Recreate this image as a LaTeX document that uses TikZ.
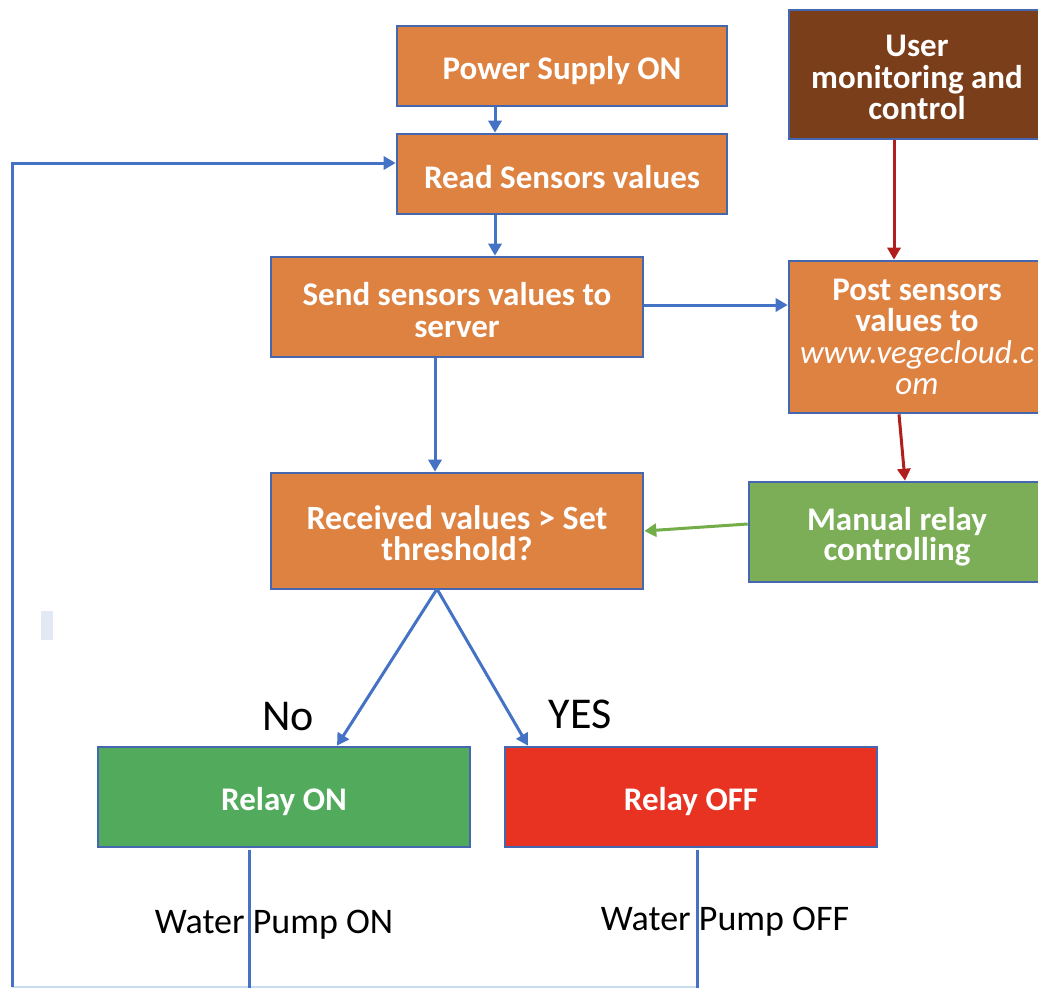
\documentclass[tikz,border=0pt]{standalone}
\usepackage{fontspec}
\setmainfont{Carlito}
\usetikzlibrary{arrows.meta}
\definecolor{boxorange}{HTML}{DE8242}
\definecolor{boxborder}{HTML}{4567B0}
\definecolor{boxbrown}{HTML}{7A3E1A}
\definecolor{boxgreen}{HTML}{7BAE56}
\definecolor{relaygreen}{HTML}{52AB5D}
\definecolor{relayred}{HTML}{E83323}
\definecolor{flowblue}{HTML}{4472C4}
\definecolor{flowred}{HTML}{B01E1E}
\definecolor{flowgreen}{HTML}{72AD48}
\definecolor{faintblue}{HTML}{C9DDF0}
\definecolor{stray}{HTML}{E3E8F5}
\tikzset{
  box/.style={draw=boxborder, line width=2.6pt, fill=boxorange, inner sep=0pt},
  bt/.style={text=white, font=\bfseries\fontsize{33}{31.5}\selectfont, align=center, inner sep=0pt, yshift=-3pt},
  arr/.style={draw=flowblue, line width=3pt, -{Triangle[width=13pt,length=12pt]}},
  rarr/.style={draw=flowred, line width=3pt, -{Triangle[width=13pt,length=12pt]}},
  garr/.style={draw=flowgreen, line width=3pt, -{Triangle[width=13pt,length=12pt]}},
  plain/.style={draw=flowblue, line width=3pt},
  lbl/.style={text=black, inner sep=0pt},
}
\begin{document}
\begin{tikzpicture}[x=1pt,y=-1pt]
\useasboundingbox (0,0) rectangle (1038,988);
% stray mark
\fill[stray] (41,611) rectangle (53,640);
% boxes
\node[box, minimum width=330pt, minimum height=80pt,
  label={[bt, yshift=-2pt]center:Power Supply ON}] (power) at (562,66) {};
\node[box, minimum width=330pt, minimum height=80pt,
  label={[bt]center:Read Sensors values}] (read) at (562,174) {};
\node[box, minimum width=372pt, minimum height=100pt,
  label={[bt]center:Send sensors values to\\server}] (send) at (457,307) {};
\node[box, fill=boxbrown, minimum width=256pt, minimum height=129pt,
  label={[bt]center:User\\monitoring and\\control}] (user) at (917,74.5) {};
\node[box, minimum width=256pt, minimum height=152pt,
  label={[bt, yshift=3pt]center:Post sensors\\values to\\{\mdseries\itshape www.vegecloud.c}\\{\mdseries\itshape om}}] (post) at (917,337) {};
\node[box, minimum width=372pt, minimum height=116pt,
  label={[bt, yshift=1pt, font=\bfseries\fontsize{34}{31}\selectfont]center:Received values > Set\\threshold?}] (recv) at (457,531) {};
\node[box, fill=boxgreen, minimum width=296pt, minimum height=100pt,
  label={[bt, yshift=-2pt, font=\bfseries\fontsize{33}{30}\selectfont]center:Manual relay\\controlling}] (manual) at (897,532) {};
\node[box, fill=relaygreen, minimum width=372pt, minimum height=100pt,
  label={[bt, yshift=-2pt]center:Relay ON}] (ron) at (284,797) {};
\node[box, fill=relayred, minimum width=372pt, minimum height=100pt,
  label={[bt, yshift=-2pt]center:Relay OFF}] (roff) at (691,797) {};
% labels
\node[lbl, font=\fontsize{44}{44}\selectfont] (no) at (288,717) {No};
\node[lbl, font=\fontsize{44}{44}\selectfont] (yes) at (580,714) {YES};
\node[lbl, font=\fontsize{36}{36}\selectfont] (wpon) at (274,925) {Water Pump ON};
\node[lbl, font=\fontsize{36}{36}\selectfont] (wpoff) at (725,922) {Water Pump OFF};
% coordinates
\coordinate (loopbot) at (12,987);
\coordinate (onbot) at (249,988);
\coordinate (offbot) at (697,988);
\coordinate (offbotline) at (697,987);
\coordinate (recvbot) at (437,589);
% connectors
\draw[arr] (power.south -| 495,0) -- (read.north -| 495,0);
\draw[arr] (read.south -| 495,0) -- (send.north -| 495,0);
\draw[arr] ([yshift=2pt]send.east) -- ([yshift=2pt]post.west |- send.east);
\draw[arr] (send.south -| 435,0) -- (recv.north -| 435,0);
\draw[arr] (recvbot) -- (ron.north -| 337,0);
\draw[arr] (recvbot) -- (roff.north -| 528,0);
\draw[rarr] (user.south -| 894,0) -- (post.north -| 894,0);
\draw[rarr] (post.south -| 899,0) -- (manual.north -| 905,0);
\draw[garr] ([yshift=8pt]manual.west) -- ([yshift=0pt]recv.east);
\draw[faintblue, line width=1.5pt] (loopbot) -- (offbotline);
\draw[arr] (loopbot) |- ([yshift=11pt]read.west);
\draw[plain] ([yshift=-2pt]ron.south -| onbot) -- (onbot);
\draw[plain] ([yshift=-2pt]roff.south -| offbot) -- (offbot);
\end{tikzpicture}
\end{document}
